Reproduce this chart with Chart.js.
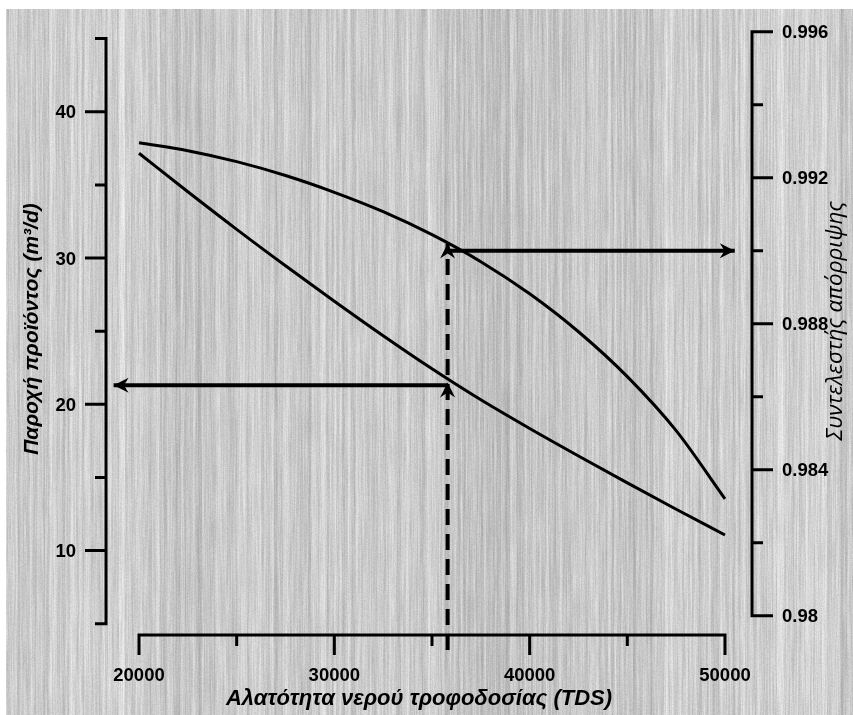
<!DOCTYPE html>
<html>
<head>
<meta charset="utf-8">
<script src="https://cdn.jsdelivr.net/npm/chart.js@4.4.1/dist/chart.umd.min.js"></script>
<style>
  html, body { margin: 0; padding: 0; background: #fff; }
  canvas { display: block; }
</style>
</head>
<body>
<canvas id="chart" width="853" height="715"></canvas>
<script>
// τιμές που διαβάστηκαν από το γράφημα
const tds       = [20000, 22500, 25000, 27500, 30000, 32500, 35000, 37500, 40000, 42500, 45000, 47500, 50000];
const flow      = [37.16, 34.53, 31.96, 29.47, 27.05, 24.69, 22.43, 20.31, 18.35, 16.47, 14.63, 12.83, 11.07];
const rejection = [0.99296, 0.99274, 0.99244, 0.99206, 0.99160, 0.99107, 0.99044, 0.98970, 0.98882, 0.98778, 0.98655, 0.98507, 0.98320];

// βέλη ανάγνωσης στα 35800 TDS
const readX        = 35800;
const leftArrowX   = [35800, 18700];
const leftArrowY   = [21.3, 21.3];
const rightArrowX  = [35800, 50500];
const rightArrowY  = [0.990, 0.990];
const dropY        = [3.21, 21.5, 31.0];

// άξονες
const xTicks      = [20000, 30000, 40000, 50000];
const xMinor      = [25000, 35000, 45000];
const leftTicks   = [10, 20, 30, 40];
const leftMinor   = [5, 15, 25, 35, 45];
const rightTicks  = [0.996, 0.992, 0.988, 0.984, 0.98];
const rightMinor  = [0.994, 0.990, 0.986, 0.982];

const xTitle     = 'Αλατότητα νερού τροφοδοσίας (TDS)';
const leftTitle  = 'Παροχή προϊόντος (m³/d)';
const rightTitle = 'Συντελεστής απόρριψης';

function mulberry32(a) {
  return function () {
    a |= 0; a = a + 0x6D2B79F5 | 0;
    let t = Math.imul(a ^ a >>> 15, 1 | a);
    t = t + Math.imul(t ^ t >>> 7, 61 | t) ^ t;
    return ((t ^ t >>> 14) >>> 0) / 4294967296;
  };
}

// γκρι "ξύλινη" υφή με κάθετες ραβδώσεις
const woodBg = {
  id: 'woodBg',
  beforeDraw(chart) {
    const { ctx, width, height } = chart;
    ctx.save();
    ctx.fillStyle = '#fff';
    ctx.fillRect(0, 0, width, height);
    const x0 = 6, y0 = 9, w = width - x0, h = height - y0;
    const img = ctx.createImageData(w, h);
    const rnd = mulberry32(11);
    const knots = [];
    for (let i = 0; i <= Math.ceil(w / 30) + 2; i++) knots.push(rnd() * 2 - 1);
    const raw = new Float32Array(w + 2);
    for (let x = 0; x < w + 2; x++) raw[x] = rnd() * 2 - 1;
    const col = new Float32Array(w);
    for (let x = 0; x < w; x++) {
      const t = x / 30, i = Math.floor(t), f = t - i, s = f * f * (3 - 2 * f);
      const lo = knots[i] * (1 - s) + knots[i + 1] * s;
      const mid = (raw[x] + 2 * raw[x + 1] + raw[x + 2]) / 4;
      col[x] = 203 + lo * 12 + mid * 20;
    }
    const step = 26, nk = Math.ceil(h / step) + 2;
    const vk = new Float32Array(nk);
    for (let x = 0; x < w; x++) {
      for (let k = 0; k < nk; k++) vk[k] = rnd() * 2 - 1;
      for (let y = 0; y < h; y++) {
        const t = y / step, k = Math.floor(t), f = t - k;
        const v = col[x] + (vk[k] * (1 - f) + vk[k + 1] * f) * 12 + (rnd() * 2 - 1) * 7;
        const c = Math.max(160, Math.min(242, v));
        const p = (y * w + x) * 4;
        img.data[p] = img.data[p + 1] = img.data[p + 2] = c;
        img.data[p + 3] = 255;
      }
    }
    ctx.putImageData(img, x0, y0);
    ctx.restore();
  }
};

// άξονες σχεδιασμένοι με το χέρι, θέσεις από τις κλίμακες του Chart.js
const AXIS_Y = 635;
const handAxes = {
  id: 'handAxes',
  beforeDatasetsDraw(chart) {
    const { ctx, scales: { x, yL, yR } } = chart;
    ctx.save();
    ctx.strokeStyle = '#000';
    ctx.fillStyle = '#000';
    ctx.lineWidth = 3;
    ctx.lineCap = 'butt';

    // αριστερός άξονας
    const lx = 106;
    ctx.beginPath();
    ctx.moveTo(lx, yL.getPixelForValue(45));
    ctx.lineTo(lx, yL.getPixelForValue(5));
    leftTicks.forEach(v => { const p = yL.getPixelForValue(v); ctx.moveTo(lx - 21, p); ctx.lineTo(lx + 1.5, p); });
    leftMinor.forEach(v => { const p = yL.getPixelForValue(v); ctx.moveTo(lx - 11, p); ctx.lineTo(lx + 1.5, p); });
    ctx.stroke();

    // δεξής άξονας
    const rx = 752;
    ctx.beginPath();
    ctx.moveTo(rx, yR.getPixelForValue(0.996));
    ctx.lineTo(rx, yR.getPixelForValue(0.98));
    rightTicks.forEach(v => { const p = yR.getPixelForValue(v); ctx.moveTo(rx - 1.5, p); ctx.lineTo(rx + 21, p); });
    rightMinor.forEach(v => { const p = yR.getPixelForValue(v); ctx.moveTo(rx - 1.5, p); ctx.lineTo(rx + 11, p); });
    ctx.stroke();

    // οριζόντιος άξονας
    ctx.beginPath();
    ctx.moveTo(x.getPixelForValue(20000), AXIS_Y);
    ctx.lineTo(x.getPixelForValue(50000), AXIS_Y);
    xTicks.forEach(v => { const p = x.getPixelForValue(v); ctx.moveTo(p, AXIS_Y - 1.5); ctx.lineTo(p, AXIS_Y + 20); });
    xMinor.forEach(v => { const p = x.getPixelForValue(v); ctx.moveTo(p, AXIS_Y - 1.5); ctx.lineTo(p, AXIS_Y + 11); });
    ctx.stroke();

    // ετικέτες
    ctx.font = "bold 18.5px 'Liberation Sans', Arial, sans-serif";
    ctx.textBaseline = 'alphabetic';
    ctx.textAlign = 'right';
    leftTicks.forEach(v => ctx.fillText(String(v), 76, yL.getPixelForValue(v) + 6.5));
    ctx.textAlign = 'left';
    rightTicks.forEach(v => ctx.fillText(String(v), 782, yR.getPixelForValue(v) + 6.5));
    ctx.textAlign = 'center';
    xTicks.forEach(v => ctx.fillText(String(v), x.getPixelForValue(v), 681));

    // τίτλοι
    ctx.font = "italic bold 22px 'Liberation Sans', Arial, sans-serif";
    ctx.fillText(xTitle, 419, 705);

    ctx.save();
    ctx.translate(38, 329);
    ctx.rotate(-Math.PI / 2);
    ctx.font = "italic bold 21px 'Liberation Sans', Arial, sans-serif";
    ctx.fillText(leftTitle, 0, 0);
    ctx.restore();

    ctx.save();
    ctx.translate(842, 321);
    ctx.rotate(-Math.PI / 2);
    ctx.font = "italic 22.5px 'Open Sans', 'Noto Sans', sans-serif";
    ctx.fillText(rightTitle, 0, 0);
    ctx.restore();

    ctx.restore();
  }
};

// αιχμές βελών στα σημεία που ορίζει το arrowAt
const arrowHeads = {
  id: 'arrowHeads',
  afterDatasetsDraw(chart) {
    const { ctx } = chart;
    chart.data.datasets.forEach((ds, i) => {
      if (!ds.arrowAt) return;
      const pts = chart.getDatasetMeta(i).data;
      ds.arrowAt.forEach(j => {
        const tip = pts[j], from = pts[j - 1];
        const a = Math.atan2(tip.y - from.y, tip.x - from.x);
        const L = 15, W = 7.5;
        ctx.save();
        ctx.translate(tip.x, tip.y);
        ctx.rotate(a);
        ctx.fillStyle = '#000';
        ctx.beginPath();
        ctx.moveTo(0, 0);
        ctx.lineTo(-L, W);
        ctx.lineTo(-L * 0.68, 0);
        ctx.lineTo(-L, -W);
        ctx.closePath();
        ctx.fill();
        ctx.restore();
      });
    });
  }
};

const curve = { borderColor: '#000', borderWidth: 3, pointRadius: 0, cubicInterpolationMode: 'monotone', fill: false, clip: false };
const arrowLine = { borderColor: '#000', borderWidth: 4, pointRadius: 0, tension: 0, fill: false, clip: false };

new Chart(document.getElementById('chart'), {
  type: 'line',
  data: {
    datasets: [
      { ...curve, label: rightTitle, yAxisID: 'yR', data: tds.map((x, i) => ({ x, y: rejection[i] })) },
      { ...curve, label: leftTitle,  yAxisID: 'yL', data: tds.map((x, i) => ({ x, y: flow[i] })) },
      { ...arrowLine, yAxisID: 'yL', arrowAt: [1], data: leftArrowX.map((x, i) => ({ x, y: leftArrowY[i] })) },
      { ...arrowLine, yAxisID: 'yR', arrowAt: [1], data: rightArrowX.map((x, i) => ({ x, y: rightArrowY[i] })) },
      { ...arrowLine, yAxisID: 'yL', arrowAt: [1, 2], borderDash: [16, 9], data: dropY.map(y => ({ x: readX, y })) },
    ]
  },
  options: {
    responsive: false,
    animation: false,
    events: [],
    layout: { padding: { left: 106, right: 99, top: 31, bottom: 60 } },
    scales: {
      x:  { type: 'linear', display: false, min: 18310, max: 51485 },
      yL: { type: 'linear', display: false, min: 2.864, max: 45.52 },
      yR: { type: 'linear', display: false, min: 0.978923, max: 0.99602 },
    },
    plugins: { legend: { display: false }, tooltip: { enabled: false } }
  },
  plugins: [woodBg, handAxes, arrowHeads]
});
</script>
</body>
</html>
